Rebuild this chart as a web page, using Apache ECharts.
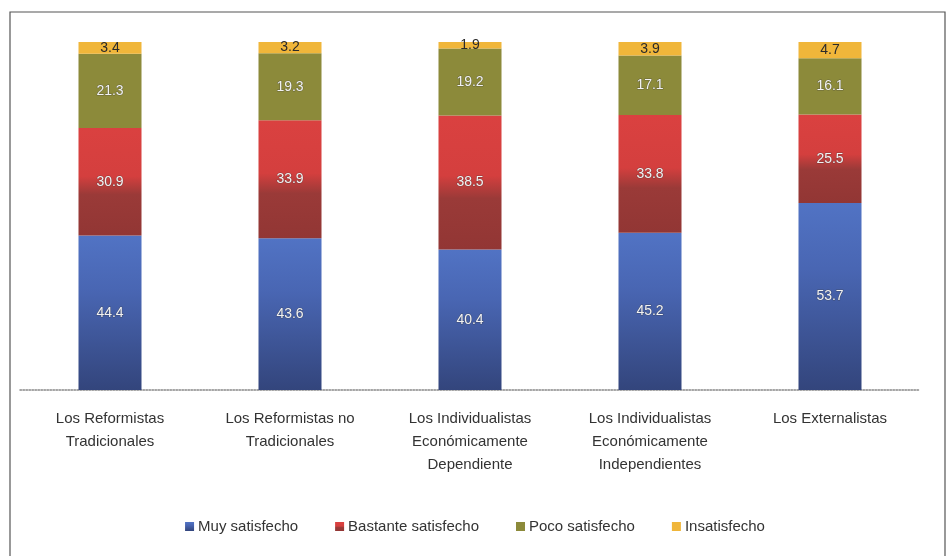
<!DOCTYPE html>
<html style="height: 100%">
<head>
    <meta charset="utf-8">
    <script src="https://cdn.jsdelivr.net/npm/echarts@6/dist/echarts.min.js"></script>
</head>
<body style="height: 100%; margin: 0; background: #fff">
    <div id="main" style="width: 950px; height: 556px"></div>
    <script type="text/javascript">
        var categories = [
            'Los Reformistas\nTradicionales',
            'Los Reformistas no\nTradicionales',
            'Los Individualistas\nEconómicamente\nDependiente',
            'Los Individualistas\nEconómicamente\nIndependientes',
            'Los Externalistas'
        ];
        var muySatisfecho = [44.4, 43.6, 40.4, 45.2, 53.7];
        var bastanteSatisfecho = [30.9, 33.9, 38.5, 33.8, 25.5];
        var pocoSatisfecho = [21.3, 19.3, 19.2, 17.1, 16.1];
        var insatisfecho = [3.4, 3.2, 1.9, 3.9, 4.7];

        var chartDom = document.getElementById('main');
        var myChart = echarts.init(chartDom);

        var blueGrad = new echarts.graphic.LinearGradient(0, 0, 0, 1, [
            { offset: 0, color: '#5173c4' },
            { offset: 0.35, color: '#4966b3' },
            { offset: 1, color: '#33457c' }
        ]);
        var redGrad = new echarts.graphic.LinearGradient(0, 0, 0, 1, [
            { offset: 0, color: '#da4140' },
            { offset: 0.45, color: '#d43f3e' },
            { offset: 0.62, color: '#9a3a38' },
            { offset: 1, color: '#923634' }
        ]);

        var labelLight = {
            show: true,
            position: 'inside',
            color: '#f2f2f2',
            fontSize: 14,
            textBorderColor: 'rgba(60,60,60,0.45)',
            textBorderWidth: 1
        };

        var option = {
            animation: false,
            textStyle: { fontFamily: 'Liberation Sans' },
            graphic: [{
                type: 'rect',
                shape: { x: 10, y: 12, width: 935, height: 560 },
                style: { fill: 'none', stroke: '#555', lineWidth: 1.2 },
                silent: true
            }],
            grid: { left: 20, right: 30, top: 42, bottom: 166 },
            legend: {
                bottom: 17,
                left: 'center',
                itemWidth: 9,
                itemHeight: 9,
                itemGap: 37,
                icon: 'rect',
                textStyle: { color: '#333', fontSize: 15, padding: [0, 0, 0, -1] },
                data: ['Muy satisfecho', 'Bastante satisfecho', 'Poco satisfecho', 'Insatisfecho']
            },
            xAxis: {
                type: 'category',
                data: categories,
                axisLine: { lineStyle: { color: '#888', type: 'dotted', width: 1.5 } },
                axisTick: { show: false },
                axisLabel: {
                    color: '#333',
                    fontSize: 15,
                    lineHeight: 23,
                    margin: 17,
                    interval: 0
                }
            },
            yAxis: {
                type: 'value',
                min: 0,
                max: 100,
                show: false,
                splitLine: { show: false }
            },
            series: [
                {
                    name: 'Muy satisfecho',
                    type: 'bar',
                    stack: 'total',
                    barWidth: 63,
                    data: muySatisfecho,
                    itemStyle: { color: blueGrad },
                    label: labelLight
                },
                {
                    name: 'Bastante satisfecho',
                    type: 'bar',
                    stack: 'total',
                    data: bastanteSatisfecho,
                    itemStyle: { color: redGrad },
                    label: labelLight
                },
                {
                    name: 'Poco satisfecho',
                    type: 'bar',
                    stack: 'total',
                    data: pocoSatisfecho,
                    itemStyle: { color: '#8c8a3a' },
                    label: labelLight
                },
                {
                    name: 'Insatisfecho',
                    type: 'bar',
                    stack: 'total',
                    data: insatisfecho,
                    itemStyle: { color: '#f0b63a' },
                    label: {
                        show: true,
                        position: 'inside',
                        color: '#2a2a2a',
                        fontSize: 14
                    }
                }
            ]
        };
        myChart.setOption(option);
    </script>
</body>
</html>
